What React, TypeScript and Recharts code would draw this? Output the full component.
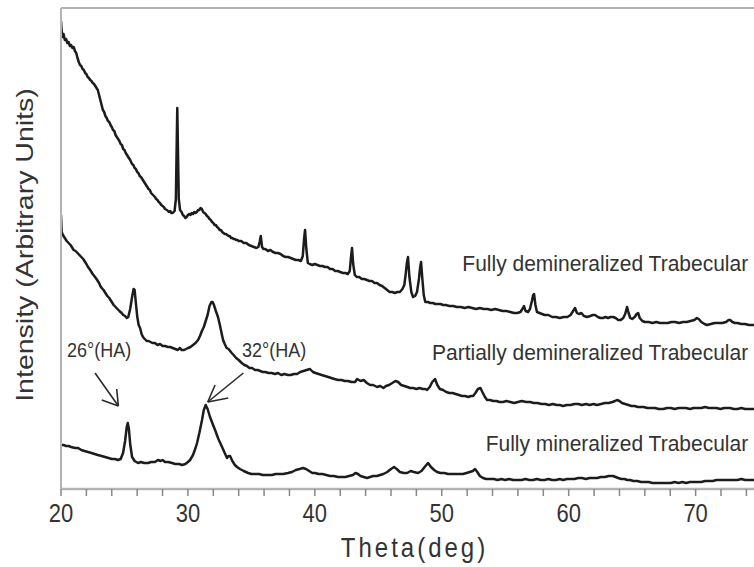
import { LineChart, Line, XAxis, YAxis, ReferenceLine, ReferenceDot, Label } from "recharts";

// x axis: 2-theta in degrees, y: arbitrary intensity (curves are offset from each other)
const X_MIN = 20;
const X_MAX = 74.6;
const Y_MAX = 481;
const X_TICKS = [20, 22, 24, 26, 28, 30, 32, 34, 36, 38, 40, 42, 44, 46, 48, 50, 52, 54, 56, 58, 60, 62, 64, 66, 68, 70, 72, 74];

const X_LABEL = "Theta(deg)";
const Y_LABEL = "Intensity (Arbitrary Units)";

// [theta, intensity]
const fullyDemineralized: [number, number][] = [
  [20.0, 468], [20.05, 458], [20.12, 452], [20.2, 455], [20.3, 449], [20.4, 450], [20.5, 446], [20.6, 447], [20.7, 443], [20.8, 444],
  [20.9, 441], [21.0, 442], [21.1, 438], [21.2, 436], [21.3, 431], [21.4, 427], [21.5, 424], [21.6, 423], [21.7, 420], [21.8, 419],
  [21.9, 416], [22.0, 415], [22.1, 412], [22.2, 411], [22.3, 409], [22.4, 408], [22.5, 406], [22.6, 405], [22.7, 403], [22.8, 401],
  [22.9, 399], [23.0, 394], [23.1, 389], [23.2, 384], [23.3, 379], [23.4, 377], [23.5, 373], [23.6, 371], [23.7, 368], [23.8, 367],
  [23.9, 364], [24.0, 362], [24.1, 359], [24.2, 358], [24.3, 354], [24.4, 352], [24.5, 350], [24.6, 348], [24.7, 345], [24.8, 344],
  [24.9, 340], [25.0, 339], [25.1, 336], [25.2, 334], [25.3, 332], [25.45, 329], [25.6, 325], [25.7, 324], [25.8, 321], [25.9, 320],
  [26.0, 317], [26.1, 316], [26.2, 313], [26.3, 312], [26.45, 309], [26.6, 306], [26.7, 304], [26.8, 302], [26.9, 300], [27.0, 299],
  [27.1, 296], [27.25, 294], [27.4, 292], [27.5, 290], [27.6, 289], [27.7, 287], [27.8, 286], [27.9, 284], [28.0, 283], [28.1, 282],
  [28.2, 280], [28.35, 279], [28.5, 277], [28.6, 278], [28.7, 276], [28.8, 276], [28.95, 278], [29.05, 290], [29.16, 381], [29.28, 290],
  [29.38, 279], [29.5, 277], [29.6, 274], [29.7, 273], [29.8, 271], [29.9, 272], [30.0, 274], [30.1, 275], [30.2, 274], [30.3, 276],
  [30.4, 275], [30.5, 277], [30.6, 276], [30.7, 277], [30.8, 279], [30.9, 279], [31.0, 281], [31.1, 280], [31.2, 277], [31.3, 276],
  [31.4, 275], [31.5, 273], [31.6, 272], [31.7, 270], [31.8, 269], [31.9, 267], [32.0, 266], [32.1, 264], [32.2, 264], [32.3, 262],
  [32.4, 261], [32.5, 259], [32.6, 259], [32.7, 257], [32.8, 256], [32.9, 255], [33.0, 255], [33.1, 254], [33.2, 253], [33.3, 253],
  [33.4, 251], [33.5, 251], [33.6, 250], [33.7, 250], [33.8, 249], [33.9, 249], [34.0, 248], [34.2, 248], [34.4, 246], [34.6, 246],
  [34.8, 244], [35.0, 243], [35.2, 242], [35.4, 241], [35.55, 242], [35.65, 247], [35.74, 253], [35.84, 242], [35.95, 240], [36.1, 240],
  [36.3, 238], [36.5, 239], [36.7, 237], [36.9, 236], [37.1, 236], [37.3, 235], [37.5, 233], [37.7, 232], [37.9, 232], [38.1, 231],
  [38.3, 230], [38.5, 229], [38.7, 229], [38.9, 228], [39.05, 233], [39.15, 250], [39.23, 259], [39.33, 240], [39.45, 226], [39.6, 225],
  [39.8, 224], [40.0, 225], [40.2, 224], [40.4, 223], [40.6, 223], [40.8, 222], [41.0, 222], [41.2, 220], [41.4, 220], [41.6, 218],
  [41.8, 218], [42.0, 217], [42.2, 216], [42.4, 216], [42.6, 215], [42.75, 218], [42.85, 232], [42.93, 241], [43.02, 225], [43.15, 214],
  [43.3, 212], [43.5, 212], [43.7, 210], [43.9, 210], [44.1, 209], [44.3, 208], [44.5, 208], [44.7, 206], [44.9, 206], [45.1, 204],
  [45.3, 203], [45.5, 201], [45.7, 199], [45.9, 197], [46.1, 197], [46.3, 196], [46.5, 197], [46.7, 197], [46.9, 200], [47.05, 204],
  [47.15, 214], [47.25, 226], [47.34, 232], [47.45, 212], [47.6, 197], [47.74, 192], [47.9, 193], [48.05, 197], [48.2, 210], [48.3, 222],
  [48.37, 227], [48.47, 210], [48.58, 194], [48.7, 187], [48.9, 187], [49.1, 186], [49.3, 186], [49.5, 185], [49.7, 185], [49.9, 185],
  [50.1, 184], [50.3, 184], [50.6, 183], [50.9, 183], [51.2, 182], [51.5, 182], [51.8, 181], [52.1, 182], [52.4, 181], [52.7, 180],
  [53.0, 181], [53.3, 180], [53.6, 180], [53.9, 179], [54.2, 180], [54.5, 179], [54.8, 178], [55.1, 178], [55.4, 177], [55.7, 176],
  [55.95, 176], [56.2, 177], [56.4, 181], [56.48, 183], [56.6, 178], [56.8, 177], [56.95, 180], [57.1, 188], [57.2, 194], [57.27, 195],
  [57.38, 184], [57.5, 177], [57.7, 176], [57.9, 175], [58.1, 174], [58.4, 174], [58.7, 172], [59.0, 172], [59.3, 171], [59.6, 172],
  [59.9, 172], [60.15, 174], [60.35, 178], [60.5, 181], [60.65, 176], [60.8, 175], [61.0, 176], [61.2, 173], [61.45, 172], [61.7, 173],
  [61.9, 174], [62.08, 174], [62.3, 172], [62.5, 171], [62.7, 171], [62.9, 172], [63.1, 171], [63.3, 172], [63.5, 172], [63.7, 171],
  [63.9, 169], [64.1, 169], [64.3, 171], [64.45, 175], [64.6, 182], [64.72, 176], [64.85, 171], [65.0, 170], [65.2, 172], [65.35, 175],
  [65.47, 176], [65.6, 171], [65.8, 168], [66.0, 167], [66.3, 167], [66.6, 166], [66.9, 167], [67.2, 166], [67.5, 166], [67.8, 166],
  [68.1, 167], [68.4, 167], [68.7, 166], [69.0, 167], [69.3, 167], [69.6, 168], [69.9, 169], [70.1, 171], [70.25, 170], [70.45, 167],
  [70.7, 165], [70.9, 164], [71.2, 165], [71.5, 166], [71.8, 166], [72.1, 166], [72.4, 167], [72.6, 169], [72.72, 169], [72.9, 167],
  [73.1, 166], [73.3, 166], [73.6, 165], [73.9, 165], [74.2, 164], [74.6, 164],
];

const partiallyDemineralized: [number, number][] = [
  [20.0, 274], [20.05, 257], [20.15, 254], [20.3, 251], [20.45, 248], [20.6, 246], [20.75, 244], [20.85, 242], [21.0, 239], [21.15, 238],
  [21.3, 236], [21.45, 234], [21.6, 232], [21.75, 230], [21.9, 227], [22.0, 225], [22.13, 222], [22.3, 219], [22.5, 215], [22.68, 212],
  [22.85, 209], [23.0, 206], [23.1, 203], [23.21, 201], [23.35, 199], [23.5, 196], [23.65, 193], [23.8, 191], [24.0, 187], [24.15, 184],
  [24.3, 182], [24.45, 180], [24.6, 178], [24.78, 176], [24.9, 174], [25.05, 173], [25.18, 171], [25.3, 172], [25.45, 180], [25.6, 192],
  [25.72, 200], [25.8, 199], [25.9, 186], [26.0, 173], [26.12, 164], [26.23, 161], [26.35, 155], [26.46, 152], [26.6, 150], [26.75, 148],
  [26.9, 148], [27.05, 147], [27.2, 146], [27.4, 146], [27.6, 144], [27.8, 145], [28.0, 143], [28.2, 143], [28.43, 142], [28.6, 142],
  [28.8, 141], [29.0, 140], [29.2, 139], [29.35, 141], [29.51, 139], [29.7, 139], [29.85, 140], [30.01, 141], [30.2, 142], [30.4, 144],
  [30.6, 146], [30.8, 149], [30.95, 153], [31.1, 158], [31.25, 162], [31.4, 168], [31.55, 174], [31.7, 183], [31.85, 187], [31.95, 187],
  [32.05, 184], [32.2, 178], [32.37, 172], [32.5, 165], [32.65, 156], [32.77, 149], [32.9, 145], [33.05, 141], [33.2, 140], [33.45, 136],
  [33.6, 134], [33.8, 131], [34.0, 129], [34.24, 126], [34.45, 124], [34.65, 123], [34.85, 121], [35.05, 121], [35.29, 119], [35.5, 119],
  [35.7, 118], [35.9, 117], [36.1, 117], [36.35, 116], [36.6, 116], [36.85, 115], [37.1, 116], [37.35, 114], [37.6, 115], [37.89, 114],
  [38.1, 114], [38.35, 115], [38.6, 115], [38.85, 117], [39.1, 118], [39.35, 119], [39.62, 120], [39.85, 117], [40.05, 116], [40.3, 115],
  [40.54, 114], [40.8, 113], [41.05, 112], [41.3, 111], [41.55, 110], [41.83, 109], [42.1, 109], [42.35, 108], [42.6, 108], [42.9, 107],
  [43.17, 107], [43.33, 110], [43.6, 108], [43.85, 109], [44.1, 106], [44.35, 104], [44.6, 104], [44.9, 102], [45.15, 103], [45.4, 101],
  [45.6, 103], [45.85, 104], [46.1, 106], [46.35, 108], [46.56, 107], [46.8, 104], [47.05, 103], [47.3, 102], [47.5, 101], [47.75, 101],
  [48.0, 100], [48.25, 101], [48.5, 100], [48.7, 100], [48.84, 99], [49.05, 102], [49.25, 107], [49.47, 110], [49.65, 104], [49.85, 100],
  [50.1, 99], [50.35, 97], [50.6, 96], [50.85, 96], [51.1, 95], [51.35, 94], [51.6, 93], [51.85, 93], [52.1, 92], [52.3, 93],
  [52.47, 93], [52.65, 96], [52.85, 100], [53.05, 101], [53.2, 97], [53.4, 92], [53.57, 89], [53.8, 89], [54.05, 88], [54.3, 88],
  [54.55, 87], [54.83, 87], [55.1, 88], [55.4, 87], [55.7, 86], [56.0, 87], [56.3, 88], [56.65, 87], [56.96, 87], [57.25, 86],
  [57.55, 86], [57.85, 85], [58.15, 85], [58.45, 84], [58.75, 85], [59.05, 84], [59.3, 84], [59.56, 83], [59.85, 84], [60.15, 84],
  [60.45, 85], [60.75, 85], [61.05, 84], [61.35, 85], [61.65, 84], [61.95, 85], [62.24, 84], [62.55, 85], [62.85, 86], [63.15, 86],
  [63.45, 87], [63.65, 88], [63.81, 89], [64.0, 88], [64.2, 86], [64.45, 85], [64.7, 84], [64.95, 83], [65.2, 83], [65.45, 82],
  [65.63, 82], [65.9, 82], [66.2, 81], [66.5, 81], [66.8, 81], [67.1, 80], [67.44, 80], [67.75, 81], [68.05, 81], [68.35, 80],
  [68.65, 81], [68.95, 81], [69.25, 81], [69.55, 80], [69.85, 81], [70.12, 81], [70.45, 81], [70.75, 82], [71.05, 81], [71.35, 81],
  [71.65, 81], [71.95, 80], [72.25, 81], [72.5, 81], [72.72, 81], [73.0, 80], [73.3, 80], [73.6, 81], [73.9, 80], [74.2, 80],
  [74.6, 80],
];

const fullyMineralized: [number, number][] = [
  [20.0, 44], [20.2, 44], [20.4, 43], [20.6, 43], [20.8, 42], [21.1, 41], [21.35, 41], [21.6, 39], [21.85, 38], [22.13, 37],
  [22.4, 36], [22.65, 35], [22.9, 34], [23.2, 33], [23.47, 32], [23.75, 31], [24.0, 30], [24.25, 30], [24.49, 29], [24.7, 30],
  [24.89, 36], [25.05, 48], [25.18, 62], [25.26, 66], [25.35, 60], [25.45, 45], [25.6, 32], [25.8, 28], [26.07, 26], [26.3, 27],
  [26.55, 26], [26.86, 26], [27.1, 27], [27.4, 27], [27.64, 29], [27.85, 28], [28.0, 29], [28.2, 27], [28.45, 27], [28.75, 26],
  [29.0, 25], [29.3, 25], [29.54, 24], [29.8, 25], [30.0, 27], [30.17, 29], [30.4, 34], [30.6, 41], [30.72, 46], [30.9, 56],
  [31.11, 69], [31.25, 79], [31.4, 84], [31.55, 80], [31.74, 72], [31.95, 65], [32.14, 59], [32.4, 50], [32.69, 42], [32.9, 36],
  [33.08, 31], [33.2, 33], [33.32, 33], [33.5, 28], [33.7, 24], [33.87, 22], [34.1, 20], [34.4, 18], [34.74, 16], [35.0, 15],
  [35.3, 15], [35.6, 15], [35.9, 14], [36.2, 14], [36.63, 14], [36.9, 15], [37.2, 15], [37.5, 15], [37.89, 16], [38.2, 17],
  [38.5, 19], [38.8, 20], [39.07, 21], [39.3, 20], [39.55, 18], [39.8, 16], [40.02, 16], [40.3, 15], [40.6, 15], [40.9, 14],
  [41.2, 13], [41.5, 13], [41.83, 12], [42.1, 12], [42.4, 12], [42.7, 13], [43.0, 14], [43.2, 16], [43.4, 15], [43.6, 13],
  [43.85, 12], [44.11, 11], [44.35, 12], [44.6, 13], [44.9, 13], [45.14, 14], [45.4, 15], [45.7, 17], [46.0, 20], [46.24, 22],
  [46.45, 20], [46.7, 17], [47.0, 16], [47.27, 16], [47.55, 18], [47.8, 17], [48.13, 16], [48.4, 18], [48.65, 22], [48.92, 26],
  [49.15, 22], [49.4, 19], [49.63, 17], [49.9, 16], [50.2, 16], [50.5, 15], [50.8, 15], [51.1, 15], [51.4, 15], [51.68, 15],
  [51.95, 16], [52.2, 17], [52.45, 18], [52.62, 20], [52.8, 17], [53.0, 13], [53.25, 11], [53.5, 10], [53.8, 10], [54.1, 10],
  [54.4, 9], [54.7, 10], [55.0, 9], [55.3, 10], [55.62, 9], [55.95, 9], [56.3, 9], [56.6, 10], [56.9, 9], [57.2, 9],
  [57.5, 10], [57.8, 9], [58.1, 9], [58.4, 10], [58.7, 9], [59.0, 9], [59.3, 10], [59.56, 9], [59.85, 10], [60.15, 10],
  [60.45, 10], [60.75, 11], [61.05, 11], [61.35, 10], [61.65, 11], [61.95, 11], [62.24, 11], [62.55, 12], [62.85, 12], [63.15, 13],
  [63.35, 13], [63.5, 13], [63.7, 12], [63.9, 11], [64.15, 10], [64.4, 10], [64.6, 9], [64.84, 9], [65.1, 8], [65.4, 8],
  [65.7, 7], [66.0, 7], [66.3, 7], [66.6, 6], [66.9, 6], [67.2, 6], [67.44, 6], [67.75, 6], [68.05, 6], [68.35, 7],
  [68.65, 6], [68.95, 7], [69.25, 6], [69.55, 7], [69.85, 7], [70.12, 7], [70.45, 7], [70.75, 8], [71.05, 8], [71.35, 8],
  [71.65, 9], [71.95, 9], [72.25, 9], [72.5, 9], [72.72, 9], [73.0, 9], [73.3, 9], [73.6, 10], [73.9, 9], [74.2, 9],
  [74.6, 9],
];

const SERIES = [
  { id: "demin", label: "Fully demineralized Trabecular", rows: fullyDemineralized },
  { id: "partial", label: "Partially demineralized Trabecular", rows: partiallyDemineralized },
  { id: "mineral", label: "Fully mineralized Trabecular", rows: fullyMineralized },
];

// where the curve names sit (right aligned), in chart units
const NAME_ANCHORS: Record<string, { x: number; y: number }> = {
  demin: { x: 74.14, y: 226 },
  partial: { x: 74.14, y: 137 },
  mineral: { x: 74.14, y: 46 },
};

// HA peak callouts: text start point, arrow tail, arrow tip, and the two barb ends
const CALLOUTS = [
  {
    text: "26°(HA)",
    at: { x: 20.47, y: 139 },
    tail: { x: 22.68, y: 116 },
    tip: { x: 24.52, y: 83 },
    barbs: [{ x: 23.21, y: 89 }, { x: 24.39, y: 100 }],
  },
  {
    text: "32°(HA)",
    at: { x: 34.26, y: 139 },
    tail: { x: 34.37, y: 116 },
    tip: { x: 31.56, y: 87 },
    barbs: [{ x: 33.18, y: 91 }, { x: 32.14, y: 104 }],
  },
];

const FONT = "'Liberation Sans', Arial, Helvetica, sans-serif";
const AXIS_GRAY = "#b3b3b3";
const INK = "#1c1c1c";
const TEXT = "#333";
// the original figure is a little taller than it is wide, so the type looks stretched
const STRETCH = 1.14;

const toPoints = (rows: [number, number][]) => rows.map(([theta, intensity]) => ({ theta, intensity }));

function XTick(props: any) {
  const { x, y, payload } = props;
  const v = payload?.value;
  if (v % 10 !== 0) return null;
  return (
    <text
      transform={`translate(${x},${y}) scale(1,${STRETCH})`}
      textAnchor="middle"
      dy="0.72em"
      fontSize={22}
      fill={TEXT}
      fontFamily={FONT}
    >
      {v}
    </text>
  );
}

export default function App() {
  return (
    <div style={{ position: "absolute", left: 0, top: 0, fontFamily: FONT, background: "#fff" }}>
      <LineChart width={754} height={567} margin={{ top: 8, right: 0, bottom: 0, left: 0 }}>
        <XAxis
          type="number"
          dataKey="theta"
          domain={[X_MIN, X_MAX]}
          allowDataOverflow
          ticks={X_TICKS}
          interval={0}
          tick={<XTick />}
          tickSize={7}
          tickMargin={8}
          tickLine={{ stroke: "#888", strokeWidth: 1.5 }}
          axisLine={{ stroke: AXIS_GRAY, strokeWidth: 2.5 }}
          height={78}
        >
          <Label
            content={(props: any) => {
              const vb = props.viewBox || { x: 61, y: 489, width: 693 };
              return (
                <text
                  transform={`translate(${vb.x + vb.width / 2 + 7},557) scale(1,${STRETCH})`}
                  textAnchor="middle"
                  fontSize={24}
                  letterSpacing={3}
                  fill={TEXT}
                  fontFamily={FONT}
                >
                  {X_LABEL}
                </text>
              );
            }}
          />
        </XAxis>
        <YAxis
          type="number"
          dataKey="intensity"
          domain={[0, Y_MAX]}
          allowDataOverflow
          tick={false}
          tickLine={false}
          axisLine={{ stroke: AXIS_GRAY, strokeWidth: 2 }}
          width={61}
        >
          <Label
            content={() => (
              <text
                transform="translate(25,245) scale(1,1.24) rotate(-90)"
                textAnchor="middle"
                dominantBaseline="central"
                fontSize={23}
                fill={TEXT}
                fontFamily={FONT}
              >
                {Y_LABEL}
              </text>
            )}
          />
        </YAxis>

        <ReferenceLine y={Y_MAX} stroke={AXIS_GRAY} strokeWidth={2} />

        {SERIES.map((s) => (
          <Line
            key={s.id}
            data={toPoints(s.rows)}
            dataKey="intensity"
            type="linear"
            stroke={INK}
            strokeWidth={2.5}
            strokeLinejoin="round"
            dot={false}
            activeDot={false}
            isAnimationActive={false}
          />
        ))}

        {SERIES.map((s) => (
          <ReferenceDot
            key={`name-${s.id}`}
            x={NAME_ANCHORS[s.id].x}
            y={NAME_ANCHORS[s.id].y}
            r={0}
            shape={(p: any) => (
              <text
                transform={`translate(${p.cx},${p.cy}) scale(1,1.08)`}
                textAnchor="end"
                dominantBaseline="central"
                fontSize={21}
                fill={TEXT}
                fontFamily={FONT}
              >
                {s.label}
              </text>
            )}
          />
        ))}

        {CALLOUTS.map((c) => (
          <ReferenceDot
            key={`txt-${c.text}`}
            x={c.at.x}
            y={c.at.y}
            r={0}
            shape={(p: any) => (
              <text
                transform={`translate(${p.cx},${p.cy}) scale(1,1.1)`}
                textAnchor="start"
                dominantBaseline="central"
                fontSize={18}
                fill={TEXT}
                fontFamily={FONT}
              >
                {c.text}
              </text>
            )}
          />
        ))}
        {CALLOUTS.map((c) => (
          <ReferenceLine key={`shaft-${c.text}`} segment={[c.tail, c.tip]} stroke="#2a2a2a" strokeWidth={1.6} />
        ))}
        {CALLOUTS.flatMap((c) =>
          c.barbs.map((b, i) => (
            <ReferenceLine key={`barb-${c.text}-${i}`} segment={[b, c.tip]} stroke="#2a2a2a" strokeWidth={1.6} />
          ))
        )}
      </LineChart>
    </div>
  );
}
